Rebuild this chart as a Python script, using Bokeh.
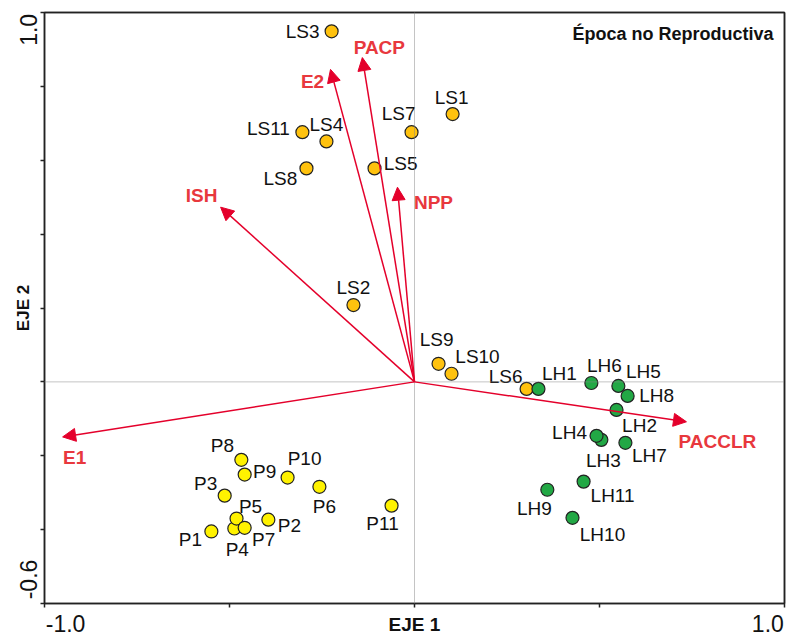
from bokeh.plotting import figure
from bokeh.models import (ColumnDataSource, Span, Arrow, NormalHead, Label,
                          FixedTicker, Range1d, LinearAxis)
from bokeh.core.properties import value
from bokeh.embed import file_html
from bokeh.resources import INLINE

# ---------------- data ----------------
ls_names = ["LS1", "LS2", "LS3", "LS4", "LS5", "LS6", "LS7", "LS8", "LS9", "LS10", "LS11"]
ls_x = [0.103, -0.165, -0.224, -0.238, -0.108, 0.303, -0.008, -0.292, 0.065, 0.100, -0.303]
ls_y = [0.725, 0.208, 0.949, 0.651, 0.578, -0.019, 0.676, 0.578, 0.049, 0.022, 0.676]

lh_names = ["LH1", "LH2", "LH3", "LH4", "LH5", "LH6", "LH7", "LH8", "LH9", "LH10", "LH11"]
lh_x = [0.335, 0.546, 0.505, 0.492, 0.551, 0.478, 0.570, 0.576, 0.359, 0.427, 0.457]
lh_y = [-0.019, -0.076, -0.157, -0.146, -0.011, -0.003, -0.165, -0.038, -0.292, -0.368, -0.270]

p_names = ["P1", "P2", "P3", "P4", "P5", "P6", "P7", "P8", "P9", "P10", "P11"]
p_x = [-0.549, -0.395, -0.513, -0.487, -0.481, -0.257, -0.459, -0.468, -0.459, -0.343, -0.062]
p_y = [-0.405, -0.373, -0.308, -0.397, -0.370, -0.284, -0.395, -0.211, -0.251, -0.259, -0.335]

var_names = ["PACP", "E2", "ISH", "NPP", "E1", "PACCLR"]
var_x = [-0.141, -0.227, -0.524, -0.046, -0.951, 0.735]
var_y = [0.878, 0.846, 0.473, 0.527, -0.149, -0.108]

x_ticks = [-1.0, -0.5, 0.0, 0.5, 1.0]
y_ticks = [-0.6, -0.4, -0.2, 0.0, 0.2, 0.4, 0.6, 0.8, 1.0]
x_tick_labels = ["-1.0", "1.0"]
y_tick_labels = ["-0.6", "1.0"]

# ---------------- label placement (screen px, dy down) ----------------
ls_off = {"LS1": (-1, -17), "LS2": (0, -18), "LS3": (-29, 0), "LS4": (0, -17),
          "LS5": (26, -5), "LS6": (-21, -12), "LS7": (-13, -19), "LS8": (-26, 10),
          "LS9": (-2, -24), "LS10": (26, -17), "LS11": (-34, -4)}
lh_off = {"LH1": (21, -15), "LH2": (23, 16), "LH3": (2, 21), "LH4": (-27, -3),
          "LH5": (25, -14), "LH6": (13, -17), "LH7": (24, 13), "LH8": (29, 0),
          "LH9": (-13, 19), "LH10": (30, 17), "LH11": (29, 14)}
p_off = {"P1": (-21, 8), "P2": (21, 6), "P3": (-19, -12), "P4": (3, 21),
         "P5": (14, -12), "P6": (5, 20), "P7": (19, 12), "P8": (-19, -14),
         "P9": (20, -3), "P10": (17, -19), "P11": (-9, 18)}
var_off = {"PACP": (17, -10), "E2": (-18, 12), "ISH": (-19, -12),
           "NPP": (36, 15), "E1": (12, 21), "PACCLR": (31, 20)}
# the end tick labels sit flush with the frame ends (CANOCO style)
x_label_pos = [-0.943, 0.955]
y_label_pos = [-0.535, 0.953]

FONT = "Liberation Sans"
RED = "#E4002B"
RED_TXT = "#E8383D"
INK = "#111111"
FRAME = "#222222"

p = figure(width=787, height=637, output_backend="svg", toolbar_location=None,
           x_range=Range1d(-1.0, 1.0), y_range=Range1d(-0.6, 1.0),
           min_border_left=44, min_border_right=3, min_border_top=12, min_border_bottom=33)
p.background_fill_color = "white"
p.border_fill_color = "white"
p.outline_line_color = FRAME
p.outline_line_width = 1.5
p.xgrid.visible = False
p.ygrid.visible = False

for ax in (p.xaxis[0], p.yaxis[0]):
    ax.axis_line_color = FRAME
    ax.axis_line_width = 1.5
    ax.major_tick_line_color = None
    ax.major_tick_out = 4
    ax.major_tick_in = 0
    ax.minor_tick_line_color = FRAME
    ax.minor_tick_line_width = 1.5
    ax.minor_tick_out = 4
    ax.minor_tick_in = 0
    ax.major_label_text_font = FONT
    ax.major_label_text_font_size = "23px"
    ax.major_label_text_color = INK
    ax.axis_label_text_font = FONT
    ax.axis_label_text_font_style = "bold"
    ax.axis_label_text_color = INK

p.xaxis.ticker = FixedTicker(ticks=x_label_pos, minor_ticks=x_ticks)
p.yaxis.ticker = FixedTicker(ticks=y_label_pos, minor_ticks=y_ticks)
p.xaxis.major_label_overrides = {x_label_pos[0]: x_tick_labels[0],
                                 x_label_pos[1]: x_tick_labels[1]}
p.yaxis.major_label_overrides = {y_label_pos[0]: y_tick_labels[0],
                                 y_label_pos[1]: y_tick_labels[1]}
p.yaxis.major_label_orientation = "vertical"
p.xaxis.major_label_standoff = 7
p.yaxis.major_label_standoff = 3
p.xaxis.axis_label = "EJE 1"
p.yaxis.axis_label = "EJE 2"
p.xaxis.axis_label_text_font_size = "19px"
p.yaxis.axis_label_text_font_size = "17px"
p.xaxis.axis_label_standoff = -21
p.yaxis.axis_label_standoff = -15

# plain frame lines on the top and right sides
for side in ("above", "right"):
    frame_ax = LinearAxis(ticker=FixedTicker(ticks=[], minor_ticks=[]),
                          axis_line_color=FRAME, axis_line_width=1.5,
                          major_tick_line_color=None, minor_tick_line_color=None,
                          major_tick_out=0, minor_tick_out=0,
                          major_label_standoff=0, axis_label_standoff=0)
    p.add_layout(frame_ax, side)

# dotted zero lines
p.add_layout(Span(location=0, dimension="width", line_color="#888888",
                  line_dash="1 1", line_width=1))
p.add_layout(Span(location=0, dimension="height", line_color="#888888",
                  line_dash="1 1", line_width=1))

# arrows
arr_src = ColumnDataSource(dict(x0=[0.0] * len(var_x), y0=[0.0] * len(var_y),
                                x1=var_x, y1=var_y))
p.add_layout(Arrow(source=arr_src, x_start="x0", y_start="y0", x_end="x1", y_end="y1",
                   line_color=RED, line_width=1.5,
                   end=NormalHead(size=13, fill_color=RED, line_color=RED, line_width=1)))

def add_points(names, xs, ys, offs, color):
    src = ColumnDataSource(dict(x=xs, y=ys, name=names,
                                dx=[offs[n][0] for n in names],
                                dy=[offs[n][1] for n in names]))
    p.scatter("x", "y", source=src, size=13, fill_color=color,
              line_color="#222222", line_width=1.2)
    p.text("x", "y", text="name", source=src, x_offset="dx", y_offset="dy",
           text_align="center", text_baseline="middle",
           text_font=value(FONT), text_font_size="19px", text_color=INK)

add_points(ls_names, ls_x, ls_y, ls_off, "#FFC20E")
add_points(lh_names, lh_x, lh_y, lh_off, "#22A845")
add_points(p_names, p_x, p_y, p_off, "#FFF200")

vsrc = ColumnDataSource(dict(x=var_x, y=var_y, name=var_names,
                             dx=[var_off[n][0] for n in var_names],
                             dy=[var_off[n][1] for n in var_names]))
p.text("x", "y", text="name", source=vsrc, x_offset="dx", y_offset="dy",
       text_align="center", text_baseline="middle",
       text_font=value(FONT), text_font_style="bold", text_font_size="19px",
       text_color=RED_TXT)

# title inside plot
p.add_layout(Label(x=1.0, y=1.0, text="Época no Reproductiva", x_offset=-11, y_offset=-21,
                   text_align="right", text_baseline="middle",
                   text_font=FONT, text_font_style="bold", text_font_size="18px",
                   text_color=INK))

open("out.html", "w").write(file_html(p, INLINE))
